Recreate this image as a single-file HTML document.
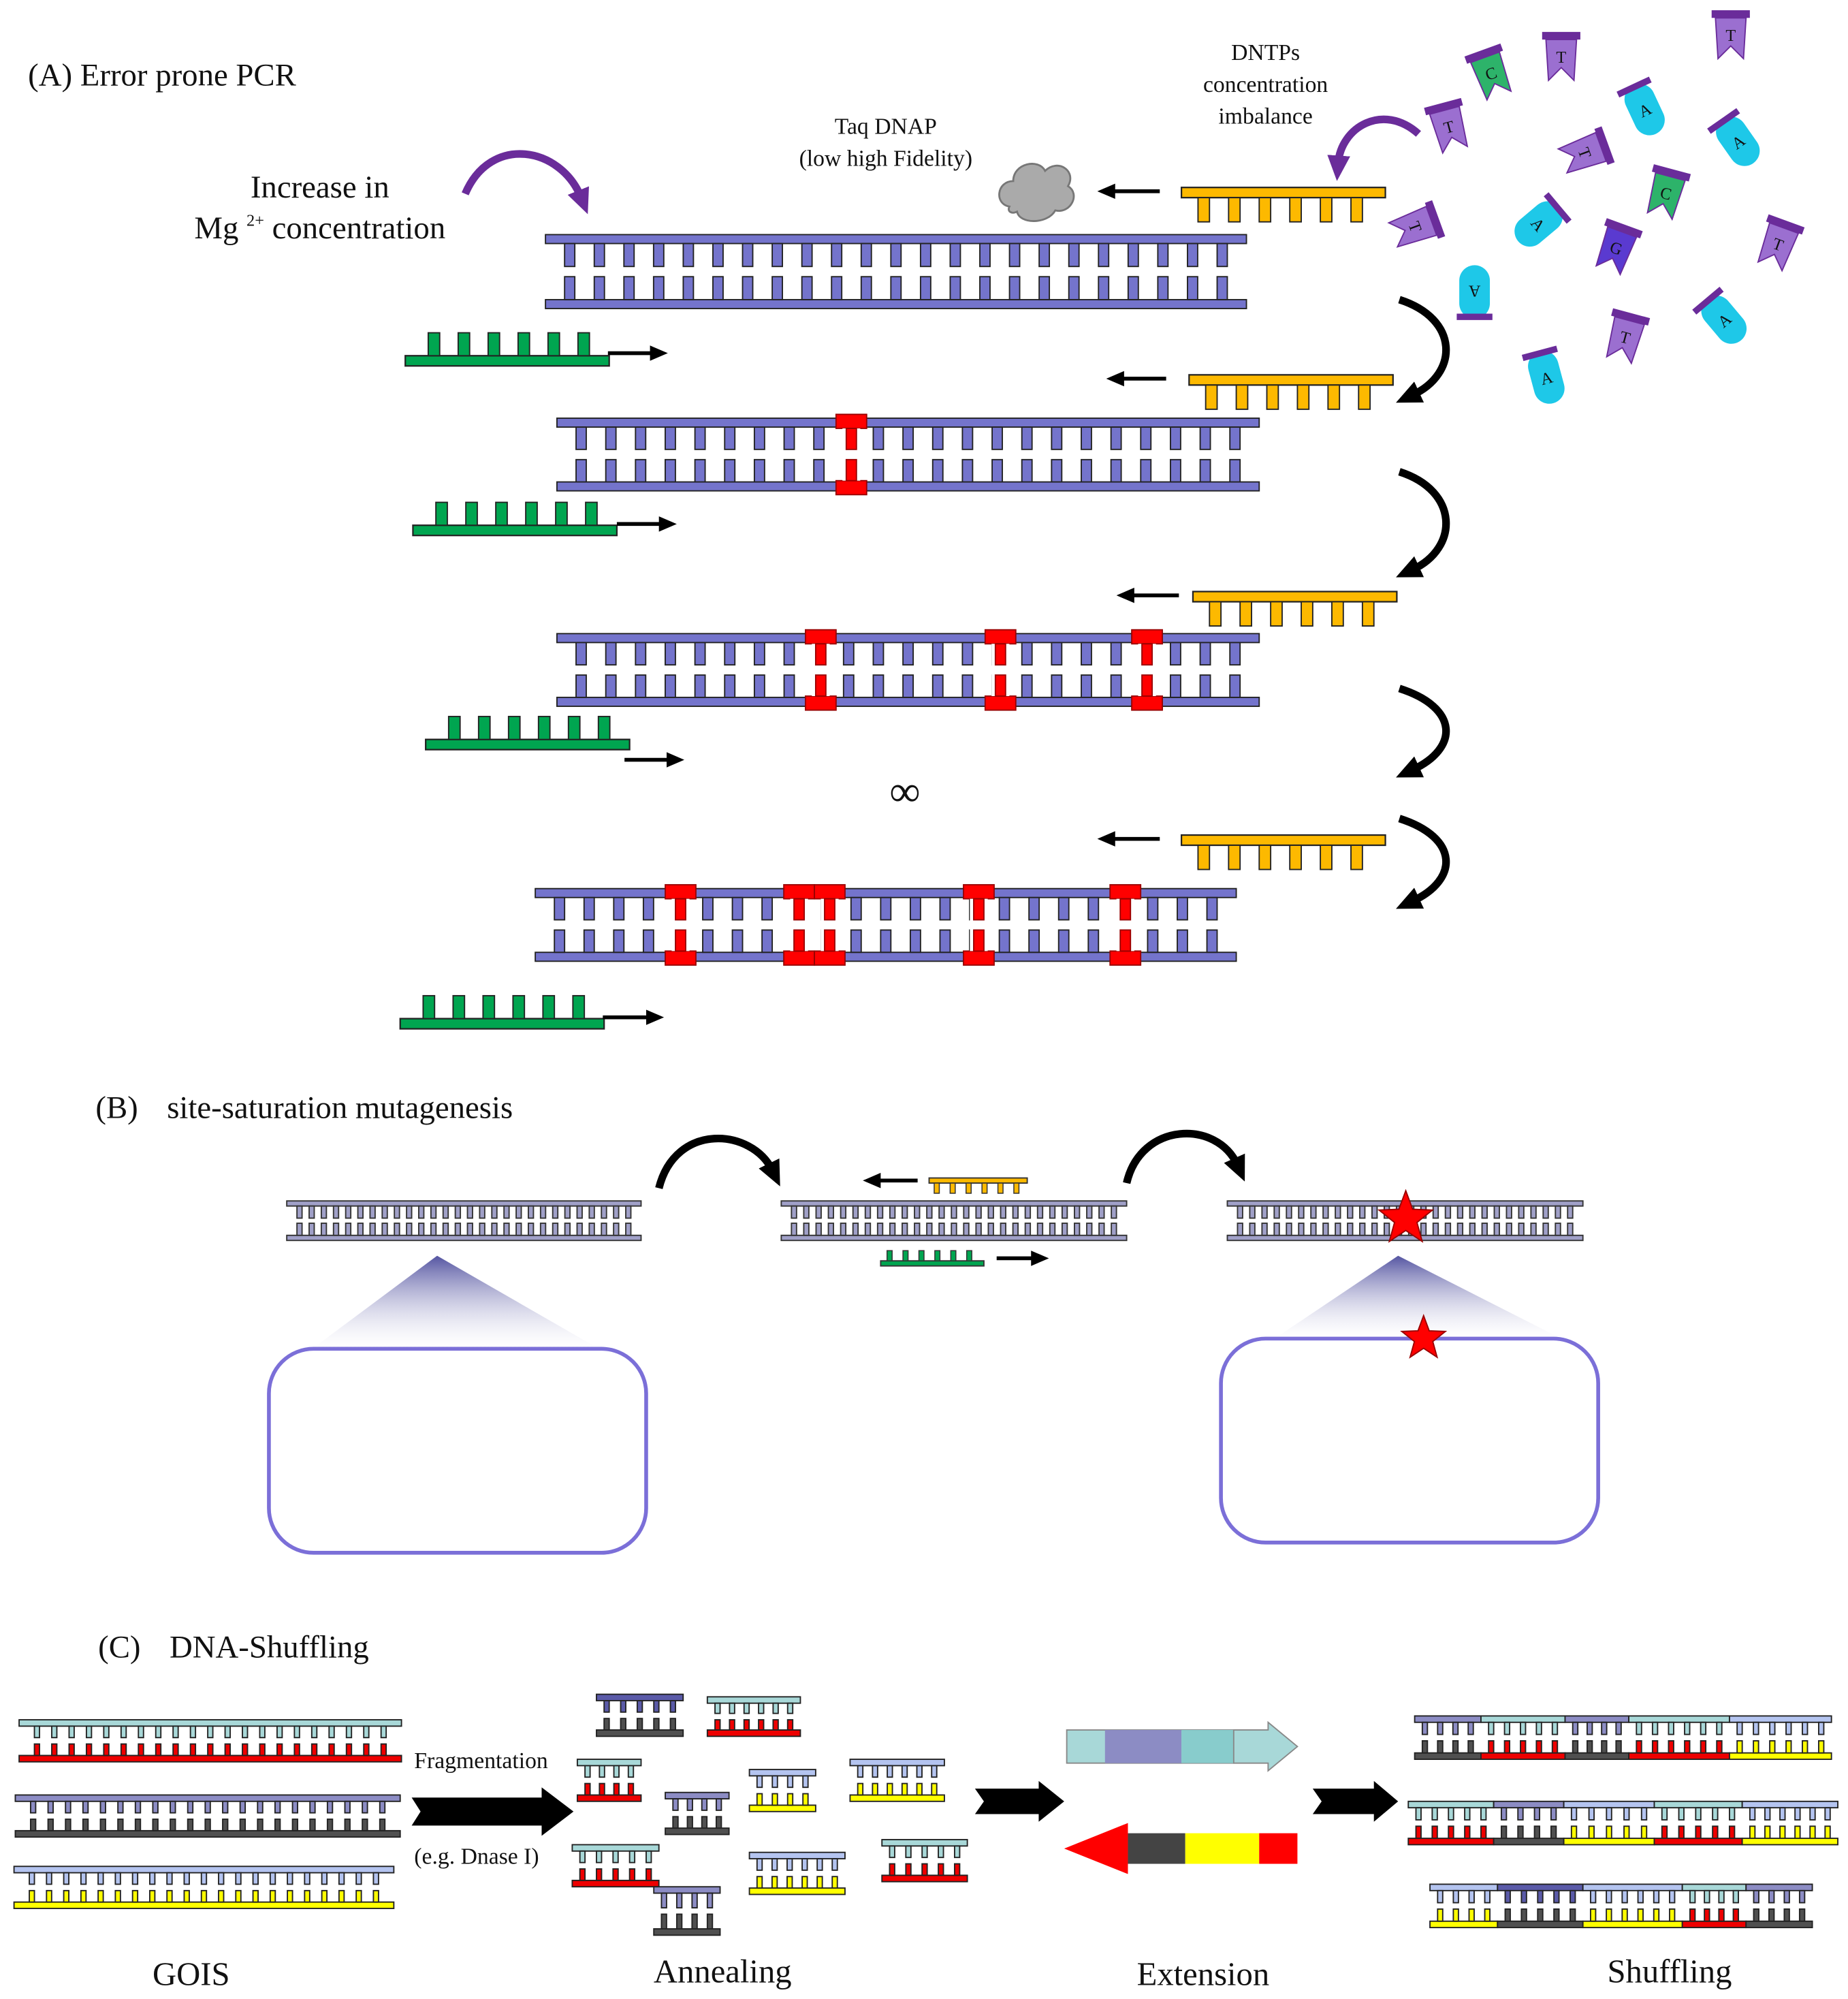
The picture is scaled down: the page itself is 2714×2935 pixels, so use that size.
<!DOCTYPE html>
<html><head><meta charset="utf-8"><style>
html,body{margin:0;padding:0;background:#fff}
svg{display:block}
text{font-family:"Liberation Serif",serif;fill:#111;white-space:pre}
</style></head><body>
<svg id="s" xmlns="http://www.w3.org/2000/svg" width="2714" height="2935" viewBox="0 0 1450 1568">
<defs>
<marker id="ah" markerUnits="userSpaceOnUse" markerWidth="14" markerHeight="14" refX="7" refY="7" orient="auto"><path d="M0,1 L14,7 L0,13 Z" fill="#000"/></marker>
<marker id="ahb" markerUnits="userSpaceOnUse" markerWidth="20" markerHeight="20" refX="6" refY="10" orient="auto"><path d="M0,1 L20,10 L0,19 Z" fill="#000"/></marker>
<marker id="ahp" markerUnits="userSpaceOnUse" markerWidth="20" markerHeight="20" refX="6" refY="10" orient="auto"><path d="M0,1 L20,10 L0,19 Z" fill="#6a2c9a"/></marker>
<linearGradient id="gr" x1="0" y1="0" x2="0" y2="1"><stop offset="0" stop-color="#2a2a8a"/><stop offset="1" stop-color="#fff" stop-opacity="0.2"/></linearGradient>
</defs>
<text x="22" y="67" font-size="25">(A) Error prone PCR</text>
<text x="251" y="155" font-size="25" text-anchor="middle">Increase in</text>
<text x="251" y="187" font-size="25" text-anchor="middle">Mg <tspan font-size="13" dy="-10">2+</tspan><tspan dy="10"> concentration</tspan></text>
<text x="695" y="105" font-size="18" text-anchor="middle">Taq DNAP</text>
<text x="695" y="130" font-size="18" text-anchor="middle">(low high Fidelity)</text>
<text x="993" y="47" font-size="18" text-anchor="middle">DNTPs</text>
<text x="993" y="72" font-size="18" text-anchor="middle">concentration</text>
<text x="993" y="97" font-size="18" text-anchor="middle">imbalance</text>
<text x="710" y="632" font-size="34" text-anchor="middle">∞</text>
<text x="75" y="877" font-size="25">(B)</text><text x="131" y="877" font-size="25">site-saturation mutagenesis</text>
<text x="77" y="1300" font-size="25">(C)</text><text x="133" y="1300" font-size="25">DNA-Shuffling</text>
<text x="325" y="1387" font-size="18">Fragmentation</text>
<text x="325" y="1462" font-size="18">(e.g. Dnase I)</text>
<text x="150" y="1557" font-size="26" text-anchor="middle">GOIS</text>
<text x="567" y="1555" font-size="26" text-anchor="middle">Annealing</text>
<text x="944" y="1557" font-size="26" text-anchor="middle">Extension</text>
<text x="1310" y="1555" font-size="26" text-anchor="middle">Shuffling</text>
<g id="g"></g>
</svg>
<script>
var o='';
function R(x,y,w,h,f,s,sw,extra){o+='<rect x="'+x+'" y="'+y+'" width="'+w+'" height="'+h+'" fill="'+f+'"'+(s?' stroke="'+s+'" stroke-width="'+(sw||1)+'"':'')+(extra||'')+'/>';}
function P(d,a){o+='<path d="'+d+'" '+a+'/>';}
function dna(x,y,w,h,ct,cb,n,bar,rw,gap,pad,st,sw){
  R(x,y,w,bar,ct,st,sw);R(x,y+h-bar,w,bar,cb,st,sw);
  var sp=(w-2*pad-rw)/(n-1),mid=y+h/2;
  for(var i=0;i<n;i++){var rx=x+pad+i*sp;
    R(rx,y+bar,rw,mid-gap/2-y-bar,ct,st,sw);
    R(rx,mid+gap/2,rw,y+h-bar-mid-gap/2,cb,st,sw);}
}
function mut(mx,y,h){R(mx-12,y-3,24,11,'#f00','#900',1);R(mx-12,y+h-8,24,11,'#f00','#900',1);
  R(mx-7,y+8,14,h-16,'#fff');R(mx-4,y+8,8,h/2-12,'#f00','#900',1);R(mx-4,y+h/2+4,8,h/2-12,'#f00','#900',1);}
function yprim(x,y){R(x,y,160,8,'#fdb900','#222',1.2);for(var i=0;i<6;i++)R(x+13+i*24,y+8,9,19,'#fdb900','#222',1);}
function gprim(x,y){R(x,y,160,8,'#00a550','#222',1.2);for(var i=0;i<6;i++)R(x+18+i*23.5,y-18,9,18,'#00a550','#222',1);}
function arr(x1,y1,x2,y2){P('M'+x1+' '+y1+' L'+x2+' '+y2,'stroke="#000" stroke-width="3" fill="none" marker-end="url(#ah)"');}
var B='#7474cc';
dna(428,184,550,58,B,B,23,7,8,8,15,'#222',1);
dna(437,328,551,57,B,B,23,7,8,8,15,'#222',1);mut(668,328,57);
dna(437,497,551,57,B,B,23,7,8,8,15,'#222',1);mut(644,497,57);mut(785,497,57);mut(900,497,57);
dna(420,697,550,57,B,B,23,7,8,8,15,'#222',1);[534,627,651,768,883].forEach(function(m){mut(m,697,57);});
yprim(927,147);arr(910,150,868,150);
yprim(933,294);arr(915,297,875,297);
yprim(936,464);arr(925,467,883,467);
yprim(927,655);arr(910,658,868,658);
gprim(318,279);arr(477,277,517,277);
gprim(324,412);arr(484,411,524,411);
gprim(334,580);arr(490,596,530,596);
gprim(314,799);arr(473,798,514,798);
[[235,318],[370,455],[540,612],[642,715]].forEach(function(a){var y1=a[0],y2=a[1];
 P('M1098 '+y1+' C1145 '+(y1+15)+' 1145 '+(y2-25)+' 1108 '+(y2-8),'stroke="#000" stroke-width="6" fill="none" marker-end="url(#ahb)"');});
P('M365 152 C385 105 440 115 456 155','stroke="#6a2c9a" stroke-width="6" fill="none" marker-end="url(#ahp)"');
P('M1113 105 C1085 80 1052 100 1050 128','stroke="#6a2c9a" stroke-width="6" fill="none" marker-end="url(#ahp)"');
P('M792 162 C780 160 782 142 795 142 C795 128 815 124 820 134 C830 124 845 134 838 146 C848 152 840 168 828 165 C822 176 800 176 798 166 C794 168 790 166 792 162 Z','fill="#aaa" stroke="#777" stroke-width="1.5"');
function tt(x,y,r,l,c){o+='<g transform="translate('+x+' '+y+') rotate('+r+')"><rect x="-15" y="-20" width="30" height="6" fill="#6a2c9a"/><path d="M-12 -14 L12 -14 L10 18 L0 8 L-10 18 Z" fill="'+c+'" stroke="#6a2c9a"/><text x="0" y="4" font-size="13" text-anchor="middle">'+l+'</text></g>';}
function cap(x,y,r,l,c){o+='<g transform="translate('+x+' '+y+') rotate('+r+')"><rect x="-12" y="-20" width="24" height="42" rx="12" fill="'+c+'"/><rect x="-14" y="-21" width="28" height="5" fill="#6a2c9a"/><text x="0" y="6" font-size="13" text-anchor="middle">'+l+'</text></g>';}
tt(1170,58,-20,'C','#2db36a');tt(1225,45,0,'T','#9b6fd0');tt(1358,28,0,'T','#9b6fd0');
cap(1290,85,-25,'A','#1ec8e8');cap(1363,110,-35,'A','#1ec8e8');tt(1137,100,-15,'T','#9b6fd0');
tt(1243,120,70,'T','#9b6fd0');tt(1307,152,15,'C','#2db36a');cap(1208,175,50,'A','#1ec8e8');
tt(1268,195,20,'G','#5a3ad0');tt(1110,178,70,'T','#9b6fd0');tt(1395,192,20,'T','#9b6fd0');
cap(1157,230,180,'A','#1ec8e8');cap(1352,250,-40,'A','#1ec8e8');tt(1275,265,15,'T','#9b6fd0');cap(1213,295,-15,'A','#1ec8e8');
var sb='#a0a0c8';
dna(225,942,278,31,sb,sb,28,4,4,4,8,'#333',1);
dna(613,942,271,31,sb,sb,27,4,4,4,8,'#333',1);
dna(963,942,279,31,sb,sb,28,4,4,4,8,'#333',1);
R(729,924,77,4,'#fdb900','#333',1);for(var i=0;i<6;i++)R(733+i*12.5,928,4,8,'#fdb900','#333',0.8);
arr(720,926,684,926);
R(691,989,81,4,'#00a550','#333',1);for(var i=0;i<6;i++)R(696+i*12.5,981,4,8,'#00a550','#333',0.8);
arr(782,987,816,987);
P('M517 932 C530 880 590 885 606 918','stroke="#000" stroke-width="6" fill="none" marker-end="url(#ahb)"');
P('M884 928 C895 880 955 878 971 914','stroke="#000" stroke-width="6" fill="none" marker-end="url(#ahb)"');
function star(cx,cy,r){var d='';for(var i=0;i<10;i++){var a=-Math.PI/2+i*Math.PI/5,rr=i%2?r*0.42:r;d+=(i?'L':'M')+(cx+rr*Math.cos(a)).toFixed(1)+' '+(cy+rr*Math.sin(a)).toFixed(1);}P(d+'Z','fill="#f00" stroke="#900" stroke-width="1"');}
P('M343 985 L470 1058 L245 1058 Z','fill="url(#gr)" opacity="0.8"');
P('M1097 985 L1225 1050 L1000 1050 Z','fill="url(#gr)" opacity="0.8"');
R(211,1058,296,160,'none','#7b6fd8',3,' rx="35"');
R(958,1050,296,160,'none','#7b6fd8',3,' rx="35"');
star(1103,956,22);star(1117,1050,18);
var CY='#a8d8d8',RD='#e00',PU='#8c8cc4',DG='#505050',LB='#b4c4f0',YE='#ffff00',DP='#5a5aa8';
dna(15,1349,300,33,CY,RD,21,5,4,5,12,'#222',1);
dna(12,1408,302,33,PU,DG,21,5,4,5,12,'#222',1);
dna(11,1464,298,33,LB,YE,21,5,4,5,12,'#222',1);
P('M323 1410 L425 1410 L425 1402 L450 1421 L425 1440 L425 1432 L323 1432 L330 1421 Z','fill="#000"');
P('M765 1403 L815 1403 L815 1397 L835 1413 L815 1429 L815 1423 L765 1423 L772 1413 Z','fill="#000"');
P('M1030 1403 L1078 1403 L1078 1397 L1097 1413 L1078 1429 L1078 1423 L1030 1423 L1037 1413 Z','fill="#000"');
var fr=[[468,1329,68,33,DP,DG,5],[555,1331,73,31,CY,RD,6],[453,1380,50,33,CY,RD,4],[522,1406,50,33,PU,DG,4],[588,1388,52,33,LB,YE,4],[667,1380,74,33,LB,YE,6],[449,1447,68,33,CY,RD,5],[513,1480,52,38,PU,DG,4],[588,1453,75,33,LB,YE,6],[692,1443,67,33,CY,RD,5]];
fr.forEach(function(f){dna(f[0],f[1],f[2],f[3],f[4],f[5],f[6],5,4,5,6,'#222',1);});
R(837,1357,131,26,CY,'#888',1);R(867,1357,60,26,PU);R(927,1357,41,26,'#88cccc');
P('M968 1357 L995 1357 L995 1351 L1018 1370 L995 1389 L995 1383 L968 1383 Z','fill="'+CY+'" stroke="#888"');
P('M885 1438 L885 1430 L835 1450 L885 1470 L885 1462 Z','fill="#f00"');
R(885,1438,45,24,'#444');R(930,1438,58,24,YE);R(988,1438,30,24,'#f00');
function row(y,segs){segs.forEach(function(s){var w=s[1]-s[0];dna(s[0],y,w,34,s[2],s[3],Math.max(3,Math.round(w/13)),5,4,5,6,'#222',1);});}
row(1346,[[1110,1162,PU,DG],[1162,1228,CY,RD],[1228,1278,PU,DG],[1278,1357,CY,RD],[1357,1437,LB,YE]]);
row(1413,[[1105,1172,CY,RD],[1172,1227,PU,DG],[1227,1298,LB,YE],[1298,1367,CY,RD],[1367,1442,LB,YE]]);
row(1478,[[1122,1175,LB,YE],[1175,1242,DP,DG],[1242,1320,LB,YE],[1320,1370,CY,RD],[1370,1422,PU,DG]]);
document.getElementById('g').innerHTML=o;
</script>
</body></html>
